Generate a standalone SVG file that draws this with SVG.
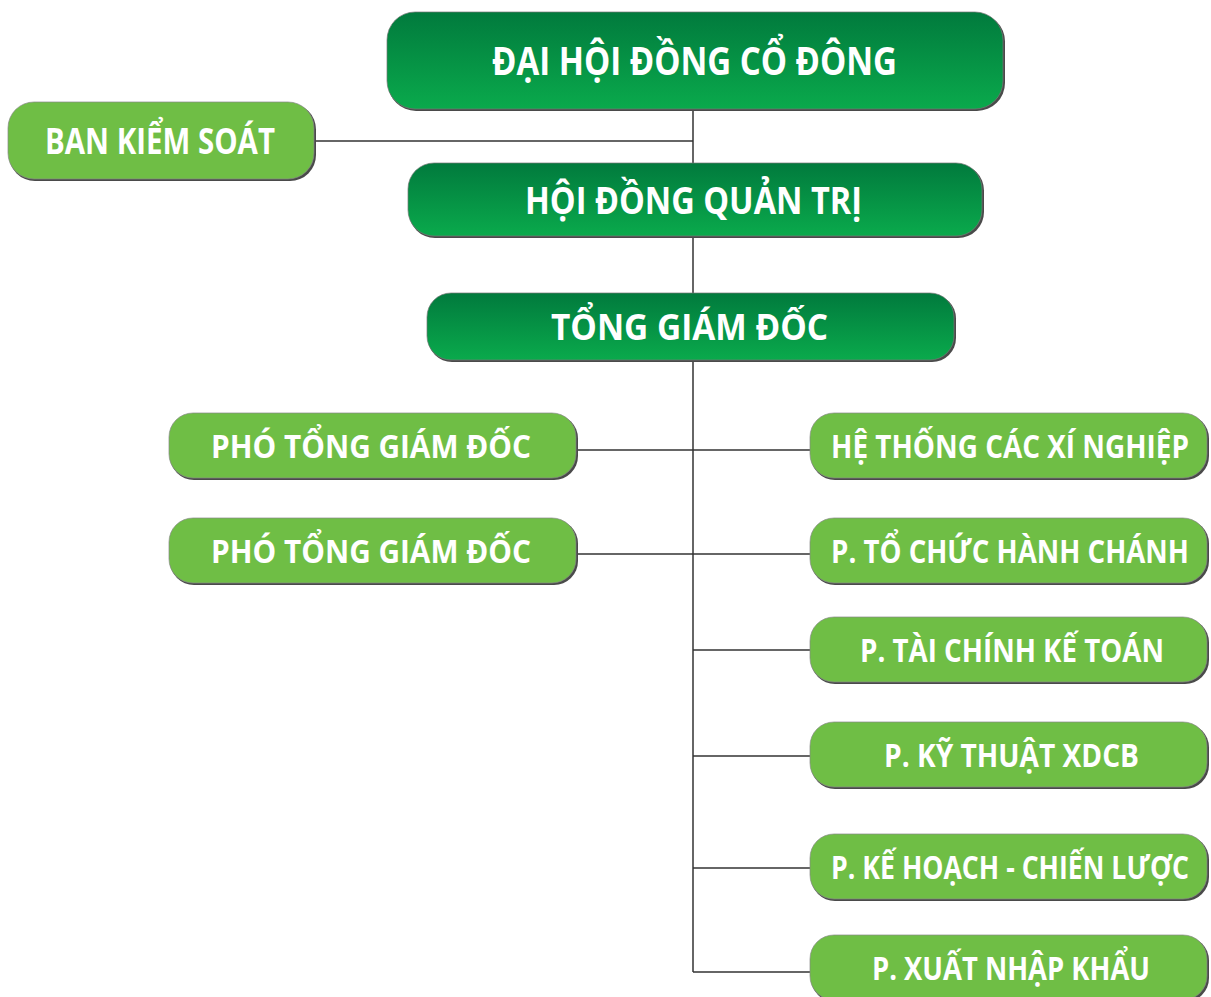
<svg xmlns="http://www.w3.org/2000/svg" width="1211" height="997" viewBox="0 0 1211 997">
<defs>
<linearGradient id="gDark" x1="0" y1="0" x2="0" y2="1">
<stop offset="0" stop-color="#017A3D"/>
<stop offset="1" stop-color="#0AAA4C"/>
</linearGradient>
<style>
.conn{stroke:#333;stroke-width:1.5;fill:none}
.sh{fill:#4a4a4a}
.dark{fill:url(#gDark);stroke:#777;stroke-width:0.7}
.light{fill:#6FBE45;stroke:#888;stroke-width:0.7}
.t{font-family:"Open Sans","Noto Sans","Liberation Sans",sans-serif;font-weight:bold;fill:#fff;text-anchor:middle}
</style>
</defs>
<rect width="1211" height="997" fill="#fff"/>
<g id="connectors">
<line class="conn" x1="693" y1="110" x2="693" y2="972"/>
<line class="conn" x1="315" y1="141" x2="693" y2="141"/>
<line class="conn" x1="577" y1="450" x2="810" y2="450"/>
<line class="conn" x1="577" y1="554" x2="810" y2="554"/>
<line class="conn" x1="693" y1="650" x2="810" y2="650"/>
<line class="conn" x1="693" y1="756" x2="810" y2="756"/>
<line class="conn" x1="693" y1="868" x2="810" y2="868"/>
<line class="conn" x1="693" y1="972" x2="810" y2="972"/>
</g>
<g id="dhdcd">
<rect class="sh" x="388" y="13.5" width="617" height="97.5" rx="28"/>
<rect class="dark" x="387" y="12" width="616" height="97" rx="28"/>
<text class="t" x="694.5" y="75" font-size="39" textLength="405" lengthAdjust="spacingAndGlyphs">ĐẠI HỘI ĐỒNG CỔ ĐÔNG</text>
</g>
<g id="bks">
<rect class="sh" x="9" y="103.5" width="307" height="77.5" rx="26"/>
<rect class="light" x="8" y="102" width="306" height="77" rx="26"/>
<text class="t" x="160" y="153.5" font-size="35" textLength="230" lengthAdjust="spacingAndGlyphs">BAN KIỂM SOÁT</text>
</g>
<g id="hdqt">
<rect class="sh" x="409" y="164.5" width="575" height="73.5" rx="26"/>
<rect class="dark" x="408" y="163" width="574" height="73" rx="26"/>
<text class="t" x="693.5" y="213.5" font-size="37" textLength="337" lengthAdjust="spacingAndGlyphs">HỘI ĐỒNG QUẢN TRỊ</text>
</g>
<g id="tgd">
<rect class="sh" x="428" y="294.5" width="528" height="67.5" rx="24"/>
<rect class="dark" x="427" y="293" width="527" height="67" rx="24"/>
<text class="t" x="689.5" y="340" font-size="36" textLength="277" lengthAdjust="spacingAndGlyphs">TỔNG GIÁM ĐỐC</text>
</g>
<g id="ptgd1">
<rect class="sh" x="170" y="414.5" width="408" height="65.5" rx="24"/>
<rect class="light" x="169" y="413" width="407" height="65" rx="24"/>
<text class="t" x="371" y="457.5" font-size="32" textLength="320" lengthAdjust="spacingAndGlyphs">PHÓ TỔNG GIÁM ĐỐC</text>
</g>
<g id="ptgd2">
<rect class="sh" x="170" y="519.5" width="408" height="65.5" rx="24"/>
<rect class="light" x="169" y="518" width="407" height="65" rx="24"/>
<text class="t" x="371" y="562.5" font-size="32" textLength="320" lengthAdjust="spacingAndGlyphs">PHÓ TỔNG GIÁM ĐỐC</text>
</g>
<g id="htcxn">
<rect class="sh" x="811" y="414.5" width="398" height="65.5" rx="24"/>
<rect class="light" x="810" y="413" width="397" height="65" rx="24"/>
<text class="t" transform="translate(1010 457.5) scale(0.84 1)" x="0" y="0" font-size="32" textLength="426" lengthAdjust="spacingAndGlyphs">HỆ THỐNG CÁC XÍ NGHIỆP</text>
</g>
<g id="tchc">
<rect class="sh" x="811" y="519.5" width="398" height="65.5" rx="24"/>
<rect class="light" x="810" y="518" width="397" height="65" rx="24"/>
<text class="t" transform="translate(1010 562.5) scale(0.84 1)" x="0" y="0" font-size="32" textLength="426" lengthAdjust="spacingAndGlyphs">P. TỔ CHỨC HÀNH CHÁNH</text>
</g>
<g id="tckt">
<rect class="sh" x="811" y="618.5" width="398" height="65.5" rx="24"/>
<rect class="light" x="810" y="617" width="397" height="65" rx="24"/>
<text class="t" x="1012" y="661.5" font-size="32" textLength="304" lengthAdjust="spacingAndGlyphs">P. TÀI CHÍNH KẾ TOÁN</text>
</g>
<g id="ktxdcb">
<rect class="sh" x="811" y="723.5" width="398" height="65.5" rx="24"/>
<rect class="light" x="810" y="722" width="397" height="65" rx="24"/>
<text class="t" x="1011.5" y="766.5" font-size="32" textLength="255" lengthAdjust="spacingAndGlyphs">P. KỸ THUẬT XDCB</text>
</g>
<g id="khcl">
<rect class="sh" x="811" y="835.5" width="398" height="65.5" rx="24"/>
<rect class="light" x="810" y="834" width="397" height="65" rx="24"/>
<text class="t" transform="translate(1010 878.5) scale(0.84 1)" x="0" y="0" font-size="32" textLength="426" lengthAdjust="spacingAndGlyphs">P. KẾ HOẠCH - CHIẾN LƯỢC</text>
</g>
<g id="xnk">
<rect class="sh" x="811" y="936.5" width="398" height="65.5" rx="24"/>
<rect class="light" x="810" y="935" width="397" height="65" rx="24"/>
<text class="t" x="1011" y="979.5" font-size="32" textLength="278" lengthAdjust="spacingAndGlyphs">P. XUẤT NHẬP KHẨU</text>
</g>
</svg>
